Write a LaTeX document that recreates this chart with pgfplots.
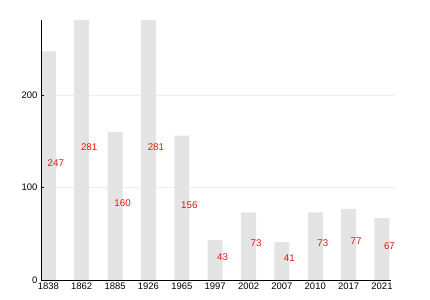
\documentclass[border=0pt]{standalone}
\usepackage{pgfplots}
\pgfplotsset{compat=1.18}
\usepackage{fontspec}
\setmainfont{Liberation Sans}
\definecolor{barfill}{HTML}{E4E4E4}
\definecolor{gridc}{HTML}{EDEDED}
\definecolor{labred}{HTML}{F01010}
\begin{document}
\begin{tikzpicture}
\path[use as bounding box] (-41bp,-20bp) rectangle (389bp,280bp);
\begin{axis}[
  axis on top,
  at={(0,0)}, anchor=south west,
  scale only axis, width=350bp, height=260bp,
  xmin=-0.22, xmax=10.27, ymin=0, ymax=281,
  axis x line*=bottom, axis y line*=left,
  axis line style={black, line width=0.8pt},
  xtick={0,1,2,3,4,5,6,7,8,9,10},
  xticklabels={1838,1862,1885,1926,1965,1997,2002,2007,2010,2017,2021},
  ytick={0,100,200},
  major x tick style={draw=none},
  ytick style={black, line width=0.6pt},
  major tick length=3bp,
  tick label style={font=\fontsize{9.5}{10}\selectfont},
  /pgf/number format/assume math mode=true,
  xticklabel style={yshift=1bp},
  clip=false,
]
\addplot[gridc, line width=0.8pt, forget plot] coordinates {(-0.22,100) (10.4,100)};
\addplot[gridc, line width=0.8pt, forget plot] coordinates {(-0.22,200) (10.4,200)};
\addplot[ybar, bar width=15bp, fill=barfill, draw=none] table[x=x, y=v] {
x v
0 247
1 281
2 160
3 281
4 156
5 43
6 73
7 41
8 73
9 77
10 67
};
\addplot[draw=none, mark=none, nodes near coords, point meta=explicit,
  every node near coord/.append style={anchor=center, xshift=7.5bp, yshift=3bp, text=labred, font=\fontsize{9.8}{10}\selectfont},
  nodes near coords={\pgfmathprintnumber{\pgfplotspointmeta}}]
  table[x=x, y expr=\thisrow{v}/2, meta=v] {
x v
0 247
1 281
2 160
3 281
4 156
5 43
6 73
7 41
8 73
9 77
10 67
};
\end{axis}
\end{tikzpicture}
\end{document}
